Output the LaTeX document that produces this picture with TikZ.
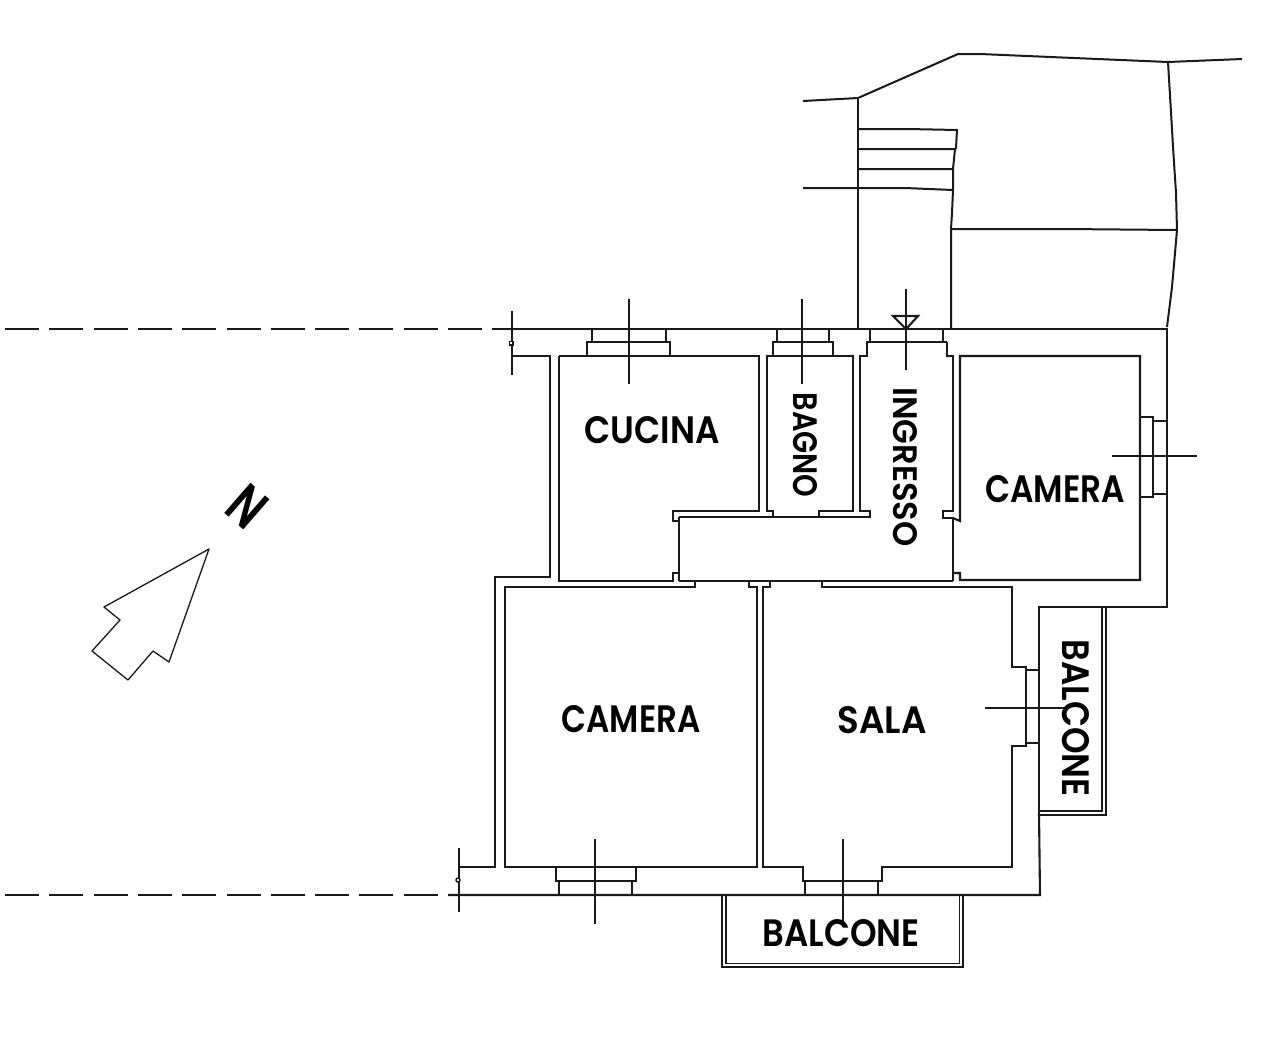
\documentclass[tikz,border=0pt]{standalone}
\usepackage{fontspec}
\usepackage{graphicx}
\setmainfont[BoldFont={Poppins SemiBold}]{Poppins}
\definecolor{ink}{HTML}{1A1A1A}
\tikzset{
  wall/.style={draw=ink,line width=2.1pt,line cap=butt,line join=miter},
  rail/.style={draw=ink,line width=1.6pt,line cap=butt,line join=miter},
  site/.style={draw=ink,line width=2pt,line join=round},
  axis/.style={draw=ink,line width=2.1pt,dash pattern=on 34pt off 10.3pt},
  thin line/.style={draw=ink,line width=1.3pt,line join=round},
  roomlabel/.style={inner sep=0pt,outer sep=0pt,text=black}
}
\newcommand{\lbl}[3]{\resizebox{#1pt}{#2pt}{\bfseries #3}}
\begin{document}
\begin{tikzpicture}[x=1pt,y=-1pt]
\path[use as bounding box,fill=white] (0,0) rectangle (1264,1050);

% site outline (top)
\draw[site] (803,101) -- (858,98) -- (958,54) -- (980,54) -- (1168,62) -- (1242,59);
\draw[site] (858,98) -- (858,329);
\draw[site] (1168,62) -- (1171,112) -- (1173,147) -- (1176,193) -- (1177,230) -- (1175,253) -- (1172,287) -- (1167,327);
% steps
\draw[site] (858,129) -- (908,129) -- (957,130) -- (956,148) -- (955,149) -- (858,149);
\draw[site] (955,149) -- (953,169) -- (858,169);
\draw[site] (953,169) -- (953,190) -- (952,213) -- (951,229) -- (951,329);
\draw[site] (803,188) -- (905,188) -- (953,190);
\draw[site] (951,229) -- (1065,229) -- (1177,230);

% axes
\draw[axis] (5,329) -- (492,329);
\draw[axis] (5,895) -- (448,895);

% outer perimeter
\draw[wall] (492,329) -- (1167,329) -- (1167,607) -- (1039,607) -- (1039,813);
\draw[wall] (1039,813) -- (1040,895) -- (448,895);
\draw[wall] (512,356) -- (550,356) -- (550,577) -- (495,577) -- (495,867) -- (459,867);

% ticks
\draw[wall] (512,311) -- (512,375);
\draw[wall] (459,848) -- (459,912);
\draw[wall,fill=white,line width=1.6pt] (509.5,341.5) rectangle (513,345);
\draw[wall,fill=white,line width=1.4pt] (458,880) circle (2);

% Cucina
\draw[wall] (679,517) -- (870,517) -- (870,511) -- (860,511) -- (860,356) -- (867,356) -- (867,342) -- (947,342);
\draw[wall] (559,356) -- (759,356) -- (759,511) -- (673,511) -- (673,521) -- (679,521);
\draw[wall] (559,356) -- (559,581) -- (673,581) -- (673,573) -- (679,573);
\draw[wall] (587,356) -- (587,342) -- (670,342) -- (670,356);
\draw[wall] (592,329) -- (592,342);
\draw[wall] (666,329) -- (666,342);

% hall
\draw[wall] (679,517) -- (679,581);
\draw[wall] (679,581) -- (953,581);
\draw[wall] (695,581) -- (695,587) -- (505,587) -- (505,867) -- (757,867) -- (757,587) -- (749,587) -- (749,581);
\draw[wall] (770,581) -- (770,587) -- (763,587) -- (763,867) -- (803,867) -- (803,881) -- (882,881) -- (882,867) -- (1012,867) -- (1012,746) -- (1026,746) -- (1026,667) -- (1012,667) -- (1012,587) -- (822,587) -- (822,581);

% Bagno
\draw[wall] (773,517) -- (773,511) -- (767,511) -- (767,356) -- (853,356) -- (853,511) -- (819,511) -- (819,517);
\draw[wall] (773,356) -- (773,342) -- (833,342) -- (833,356);
\draw[wall] (777,329) -- (777,342);
\draw[wall] (829,329) -- (829,342);

% Ingresso
\draw[wall] (870,329) -- (870,342);
\draw[wall] (943,329) -- (943,342);
\draw[wall] (947,342) -- (947,356) -- (953,356) -- (953,511) -- (943,511) -- (943,518) -- (953,518) -- (953,581);

% Camera (right)
\draw[wall] (953,518) -- (960,521) -- (960,356) -- (1140,356) -- (1140,580) -- (960,580) -- (960,573) -- (953,573);
\draw[wall] (1140,417) -- (1153,417) -- (1153,497) -- (1140,497);
\draw[wall] (1153,421) -- (1167,421);
\draw[wall] (1153,494) -- (1167,494);

% lower windows
\draw[wall] (556,867) -- (556,881) -- (636,881) -- (636,867);
\draw[wall] (559,881) -- (559,895);
\draw[wall] (632,881) -- (632,895);
\draw[wall] (805,881) -- (805,895);
\draw[wall] (878,881) -- (878,895);
\draw[wall] (1026,670) -- (1039,670);
\draw[wall] (1026,743) -- (1039,743);

% balconies
\draw[rail] (1039,811) -- (1102,811) -- (1102,607);
\draw[rail] (1039,815) -- (1106,815) -- (1106,607);
\draw[rail] (722,895) -- (722,967) -- (963,967) -- (963,895);
\draw[rail] (726,895) -- (726,963.5) -- (959.5,963.5) -- (959.5,895);

% section lines
\draw[wall] (629,299) -- (629,384);
\draw[wall] (802,299) -- (802,384);
\draw[wall] (906,289) -- (906,370);
\draw[wall] (893,316) -- (918,316) -- (906,329) -- cycle;
\draw[wall] (1112,456) -- (1197,456);
\draw[wall] (985,708) -- (1065,708);
\draw[wall] (843,839) -- (843,922);
\draw[wall] (595,839) -- (595,924);

% north arrow
\draw[thin line] (209,549) -- (104,607) -- (120,620) -- (92,651) -- (128,680) -- (153,651) -- (169,662) -- cycle;
\node[roomlabel,rotate=-41] (north) at (247,507) {\lbl{31}{40}{N}};

% labels
\node[roomlabel] (cucina) at (652,430) {\lbl{135}{27}{CUCINA}};
\node[roomlabel,rotate=-90] (bagno) at (805,445) {\lbl{105}{24}{BAGNO}};
\node[roomlabel,rotate=-90] (ingresso) at (905,467) {\lbl{159}{24}{INGRESSO}};
\node[roomlabel] (camerab) at (1055,489) {\lbl{140}{27}{CAMERA}};
\node[roomlabel] (cameraa) at (631,719) {\lbl{139}{27}{CAMERA}};
\node[roomlabel] (sala) at (882,720) {\lbl{89}{27}{SALA}};
\node[roomlabel,rotate=-90] (balconer) at (1076,718) {\lbl{157}{27}{BALCONE}};
\node[roomlabel] (balconeb) at (841,933) {\lbl{157}{27}{BALCONE}};
\end{tikzpicture}
\end{document}
